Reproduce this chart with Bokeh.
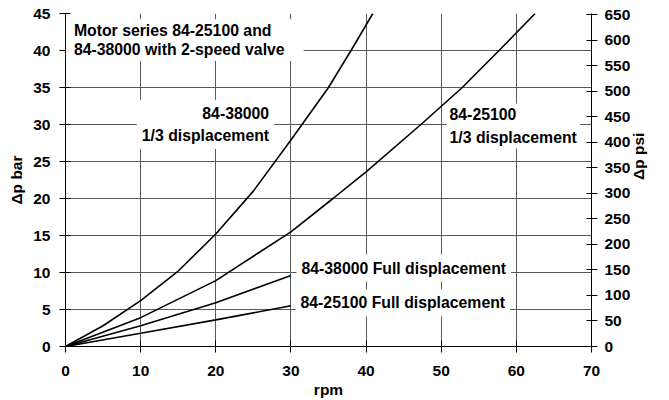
import math
from bokeh.plotting import figure
from bokeh.models import Range1d, LinearAxis, Label, FixedTicker
from bokeh.embed import file_html
from bokeh.resources import INLINE

# ---- data ----
rpm_38000_third = [0, 5, 10, 15, 20, 25, 30, 35, 38, 40.9]
dp_38000_third = [0, 2.8, 6.2, 10.2, 15.2, 21.0, 27.9, 35.0, 40.0, 45.0]

rpm_25100_third = [0, 10, 20, 30, 35.6, 40, 47.3, 52.8, 57.7, 62.5]
dp_25100_third = [0, 3.9, 8.9, 15.5, 20.0, 23.6, 30.0, 35.0, 40.0, 45.0]

rpm_38000_full = [0, 10, 20, 30]
dp_38000_full = [0, 2.8, 5.9, 9.6]

rpm_25100_full = [0, 10, 20, 30]
dp_25100_full = [0, 1.8, 3.6, 5.5]

BAR_TO_PSI = 14.5038
bar_ticks = [0, 5, 10, 15, 20, 25, 30, 35, 40, 45]
psi_ticks = [0, 50, 100, 150, 200, 250, 300, 350, 400, 450, 500, 550, 600, 650]
rpm_ticks = [0, 10, 20, 30, 40, 50, 60, 70]

FONT = "Liberation Sans"
FS = "15.5px"
FS_NOTE = "15.8px"
GRID = "#5a5a5a"

p = figure(width=669, height=400, output_backend="svg", toolbar_location=None,
           x_range=Range1d(0, 70), y_range=Range1d(0, 45),
           min_border_left=65, min_border_right=78, min_border_top=13,
           min_border_bottom=54)
p.outline_line_color = None
p.background_fill_color = "white"
p.border_fill_color = "white"
p.extra_y_ranges = {"psi": Range1d(0, 45 * BAR_TO_PSI)}

def style_axis(ax, tin, tout):
    ax.axis_line_color = "black"
    ax.axis_line_width = 1
    ax.major_tick_line_color = "black"
    ax.major_tick_in = tin
    ax.major_tick_out = tout
    ax.minor_tick_line_color = None
    ax.major_label_text_font = FONT
    ax.major_label_text_font_size = FS
    ax.major_label_text_font_style = "bold"
    ax.major_label_text_color = "black"
    ax.axis_label_text_font = FONT
    ax.axis_label_text_font_size = FS
    ax.axis_label_text_font_style = "bold"
    ax.axis_label_text_color = "black"

p.xaxis.ticker = FixedTicker(ticks=rpm_ticks)
p.yaxis.ticker = FixedTicker(ticks=bar_ticks)
style_axis(p.xaxis[0], 6, 6)
style_axis(p.yaxis[0], 5, 6)
p.xaxis.axis_label = "rpm"
p.yaxis.axis_label = "Δp bar"
p.xaxis.major_label_standoff = 13
p.xaxis.axis_label_standoff = 2
p.yaxis.major_label_standoff = 9
p.yaxis.axis_label_standoff = 5

right = LinearAxis(y_range_name="psi", ticker=FixedTicker(ticks=psi_ticks))
style_axis(right, 5, 6)
right.major_label_standoff = 7
right.axis_label = "Δp psi"
right.axis_label_standoff = 5
if "axis_label_orientation" in right.properties():
    right.axis_label_orientation = math.pi / 2
p.add_layout(right, "right")

p.xgrid.ticker = FixedTicker(ticks=rpm_ticks)
p.ygrid.ticker = FixedTicker(ticks=bar_ticks)
for g in (p.xgrid[0], p.ygrid[0]):
    g.grid_line_color = GRID
    g.grid_line_width = 1

lw = 1.6
p.line(rpm_38000_third, dp_38000_third, line_color="black", line_width=lw)
p.line(rpm_25100_third, dp_25100_third, line_color="black", line_width=lw)
p.line(rpm_38000_full, dp_38000_full, line_color="black", line_width=lw)
p.line(rpm_25100_full, dp_25100_full, line_color="black", line_width=lw)

def add_label(x, y, text, align="left", pad=5, lh=1.1):
    lab = Label(x=x, y=y, text=text, text_align=align, text_baseline="middle",
                text_font=FONT, text_font_size=FS_NOTE, text_font_style="bold",
                text_color="black", text_line_height=lh,
                background_fill_color="white", background_fill_alpha=1.0,
                padding=pad)
    p.add_layout(lab)

add_label(0.05, 41.4, "Motor series 84-25100 and\n84-38000 with 2-speed valve",
          pad=dict(left=8, right=19, top=3, bottom=3))
add_label(27.76, 30.0, "84-38000\n1/3 displacement", align="right", lh=1.3)
add_label(50.71, 29.8, "84-25100\n1/3 displacement", pad=3, lh=1.3)
add_label(30.74, 10.6, "84-38000 Full displacement")
add_label(30.61, 5.9, "84-25100 Full displacement")

open("out.html", "w").write(file_html(p, INLINE))
